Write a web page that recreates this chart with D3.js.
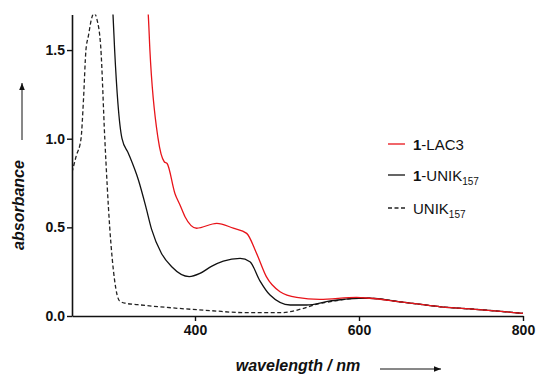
<!DOCTYPE html>
<html>
<head>
<meta charset="utf-8">
<script src="https://cdn.jsdelivr.net/npm/d3@7"></script>
<style>
    body { margin: 0; background: #fff; }
    text { font-family: "Liberation Sans", Arial, sans-serif; fill: #111; }
</style>
</head>
<body>
<svg id="mySVG" width="537" height="376"></svg>
<script>
// UNIK157 (dashed)
const unikWl = [250, 255, 261, 264, 267, 270, 274, 277, 280, 285, 290, 296, 302, 308, 315, 330, 380, 420, 460, 505, 530, 545, 570, 600, 613, 650, 700, 750, 800];
const unikAbs = [0.81, 0.9, 1.0, 1.22, 1.5, 1.58, 1.68, 1.71, 1.68, 1.52, 1.0, 0.5, 0.2, 0.085, 0.072, 0.064, 0.043, 0.03, 0.019, 0.019, 0.04, 0.062, 0.085, 0.1, 0.1, 0.08, 0.052, 0.035, 0.015];

// 1-UNIK157 (black)
const unik1Wl = [297, 300, 302, 306, 311, 318.7, 331, 340, 347, 359, 371.6, 393, 406, 420, 434.5, 455, 467, 479, 491.5, 516, 536, 565, 600, 613, 650, 700, 750, 800];
const unik1Abs = [1.85, 1.7, 1.5, 1.2, 1.0, 0.918, 0.767, 0.617, 0.49, 0.354, 0.278, 0.222, 0.24, 0.28, 0.31, 0.325, 0.306, 0.2, 0.118, 0.062, 0.062, 0.085, 0.1, 0.1, 0.08, 0.052, 0.035, 0.015];

// 1-LAC3 (red)
const lacWl = [341, 343, 345, 355, 362.5, 366, 375.6, 381.7, 387.8, 402, 426.5, 446.7, 463, 475, 487, 503.7, 524, 552, 597, 613, 650, 700, 750, 800];
const lacAbs = [1.8, 1.7, 1.5, 1.0, 0.87, 0.86, 0.69, 0.626, 0.56, 0.495, 0.523, 0.495, 0.466, 0.354, 0.222, 0.137, 0.105, 0.094, 0.105, 0.1, 0.08, 0.052, 0.035, 0.015];

const xTicks = [400, 600, 800];
const yTicks = [0, 0.5, 1.0, 1.5];

const svg = d3.select('#mySVG');

const x = d3.scaleLinear().domain([250, 800]).range([72, 523]);
const y = d3.scaleLinear().domain([0, 1.7]).range([316, 14.6]);

svg.append("defs").append("clipPath")
    .attr("id", "plotClip")
    .append("rect")
    .attr("x", 72).attr("y", 14.6)
    .attr("width", 523 - 72).attr("height", 316 - 14.6);

const series = [
    {wl: unikWl, abs: unikAbs, color: "#222", dash: "4,2.5"},
    {wl: unik1Wl, abs: unik1Abs, color: "#111", dash: null},
    {wl: lacWl, abs: lacAbs, color: "#e8141a", dash: null}
];

const line = d3.line()
    .x(d => x(d[0]))
    .y(d => y(d[1]))
    .curve(d3.curveMonotoneX);

const linesG = svg.append("g").attr("clip-path", "url(#plotClip)");
series.forEach(function (s) {
    linesG.append("path")
        .datum(s.wl.map((w, i) => [w, s.abs[i]]))
        .attr("d", line)
        .attr("fill", "none")
        .attr("stroke", s.color)
        .attr("stroke-width", 1.3)
        .attr("stroke-dasharray", s.dash);
});

// axes
const yAxis = svg.append("g")
    .attr("transform", "translate(72,0)")
    .call(d3.axisLeft(y).tickValues(yTicks).tickFormat(d3.format(".1f")).tickSize(5).tickSizeOuter(0).tickPadding(2));

const xAxis = svg.append("g")
    .attr("transform", "translate(0,316)")
    .call(d3.axisBottom(x).tickValues(xTicks).tickSize(5).tickSizeOuter(0).tickPadding(4));

[yAxis, xAxis].forEach(function (a) {
    a.select(".domain").attr("stroke", "#111").attr("stroke-width", 1.6);
    a.selectAll(".tick line").attr("stroke", "#111").attr("stroke-width", 1.4);
    a.selectAll(".tick text")
        .style("font-family", '"Liberation Sans", Arial, sans-serif')
        .style("font-size", "14px")
        .style("font-weight", "bold")
        .attr("fill", "#111");
});

// axis titles with arrows
svg.append("defs").append("marker")
    .attr("id", "arrowHead")
    .attr("viewBox", "0 -5 10 10")
    .attr("refX", 10).attr("refY", 0)
    .attr("markerWidth", 7).attr("markerHeight", 7)
    .attr("markerUnits", "userSpaceOnUse")
    .attr("orient", "auto")
    .append("path")
    .attr("d", "M0,-4L10,0L0,4Z")
    .attr("fill", "#111");

svg.append("text")
    .attr("transform", "translate(24,205) rotate(-90)")
    .attr("text-anchor", "middle")
    .style("font-size", "16px")
    .style("font-weight", "bold")
    .style("font-style", "italic")
    .text("absorbance");

svg.append("line")
    .attr("x1", 22).attr("y1", 140).attr("x2", 22).attr("y2", 83)
    .attr("stroke", "#111").attr("stroke-width", 1)
    .attr("marker-end", "url(#arrowHead)");

svg.append("text")
    .attr("x", 298).attr("y", 371)
    .attr("text-anchor", "middle")
    .style("font-size", "16px")
    .style("font-weight", "bold")
    .style("font-style", "italic")
    .text("wavelength / nm");

svg.append("line")
    .attr("x1", 380).attr("y1", 369).attr("x2", 441).attr("y2", 369)
    .attr("stroke", "#111").attr("stroke-width", 1)
    .attr("marker-end", "url(#arrowHead)");

// legend
const legend = [
    {bold: "1", rest: "-LAC3", sub: "", color: "#e8141a", dash: null, ly: 144},
    {bold: "1", rest: "-UNIK", sub: "157", color: "#111", dash: null, ly: 175},
    {bold: "", rest: "UNIK", sub: "157", color: "#222", dash: "4,2.5", ly: 208}
];

const legendG = svg.selectAll("g.legend")
    .data(legend)
    .enter().append("g")
    .attr("class", "legend")
    .attr("transform", d => `translate(388, ${d.ly})`);

legendG.append("line")
    .attr("x1", 0).attr("x2", 17)
    .attr("stroke", d => d.color)
    .attr("stroke-width", 1.3)
    .attr("stroke-dasharray", d => d.dash);

const legendText = legendG.append("text")
    .attr("x", 25).attr("y", 5.5)
    .style("font-size", "15px");

legendText.append("tspan")
    .style("font-weight", "bold")
    .text(d => d.bold);
legendText.append("tspan")
    .text(d => d.rest);
legendText.append("tspan")
    .attr("dy", 4)
    .style("font-size", "10px")
    .text(d => d.sub);
</script>
</body>
</html>
